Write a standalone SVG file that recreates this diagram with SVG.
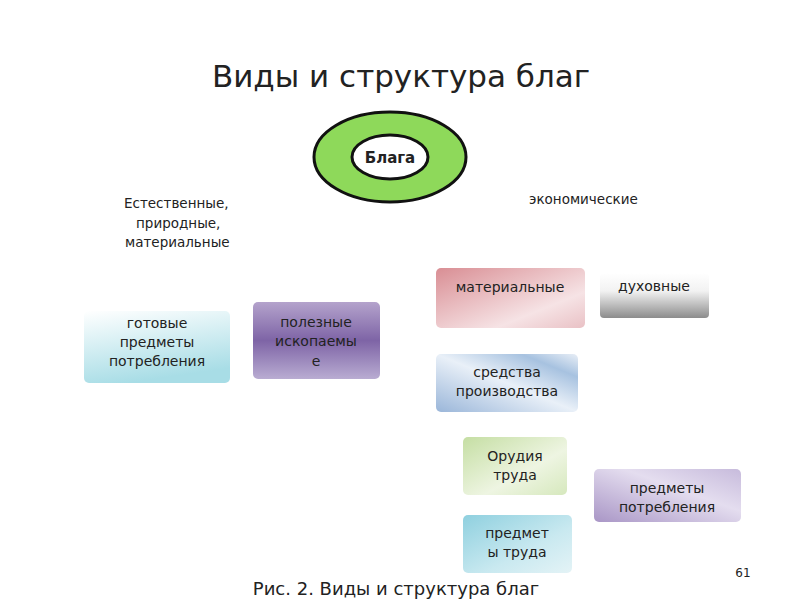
<svg xmlns="http://www.w3.org/2000/svg" width="800" height="600" viewBox="0 0 800 600">
<defs>
<linearGradient id="gCyan" x1="0" y1="0" x2="0.3" y2="1"><stop offset="0" stop-color="#ffffff"/><stop offset="1" stop-color="#a8dde6"/></linearGradient>
<linearGradient id="gPurple" x1="0" y1="0" x2="0" y2="1"><stop offset="0" stop-color="#b4a3cc"/><stop offset="0.5" stop-color="#7e64a6"/><stop offset="1" stop-color="#b9acd2"/></linearGradient>
<linearGradient id="gPink" x1="0" y1="0" x2="1" y2="1"><stop offset="0" stop-color="#d98e94"/><stop offset="0.7" stop-color="#f6e3e5"/><stop offset="1" stop-color="#e9c1c5"/></linearGradient>
<linearGradient id="gGray" x1="0" y1="0" x2="0" y2="1"><stop offset="0" stop-color="#ffffff"/><stop offset="0.4" stop-color="#f2f2f2"/><stop offset="1" stop-color="#8c8c8c"/></linearGradient>
<linearGradient id="gBlue" x1="0" y1="1" x2="1" y2="0"><stop offset="0" stop-color="#9ab6d9"/><stop offset="0.5" stop-color="#e9f0f8"/><stop offset="0.8" stop-color="#a7c2e0"/><stop offset="1" stop-color="#e8eef6"/></linearGradient>
<linearGradient id="gGreen" x1="0" y1="0" x2="1" y2="1"><stop offset="0" stop-color="#c5dea3"/><stop offset="0.6" stop-color="#eef5e2"/><stop offset="1" stop-color="#d6e8bd"/></linearGradient>
<linearGradient id="gLav" x1="0" y1="1" x2="1" y2="0"><stop offset="0" stop-color="#a996c6"/><stop offset="0.6" stop-color="#e4ddef"/><stop offset="1" stop-color="#c7bbdc"/></linearGradient>
<linearGradient id="gCyan2" x1="0" y1="0" x2="1" y2="1"><stop offset="0" stop-color="#8fd0df"/><stop offset="0.6" stop-color="#c9e9f0"/><stop offset="1" stop-color="#e4f3f6"/></linearGradient>
</defs>
<style>
text{font-family:"DejaVu Sans","Liberation Sans",sans-serif;fill:#222}
.t{font-size:14px;text-anchor:middle}
.s{font-size:13.5px}
</style>
<rect width="800" height="600" fill="#fff"/>
<text x="401" y="87" font-size="31" text-anchor="middle" fill="#111">Виды и структура благ</text>
<g id="blaga">
<ellipse cx="390" cy="157" rx="76" ry="45" fill="#8ed95a" stroke="#111" stroke-width="3"/>
<ellipse cx="390" cy="157" rx="38" ry="22" fill="#fff" stroke="#111" stroke-width="3"/>
<text x="390" y="163" font-size="15" font-weight="bold" text-anchor="middle" fill="#111">Блага</text>
</g>
<g id="natural"><text class="s" x="124" y="208">Естественные,</text><text class="s" x="136" y="228">природные,</text><text class="s" x="125" y="247">материальные</text></g>
<g id="econ"><text class="s" x="529" y="204">экономические</text></g>
<g id="gotovye"><rect x="84" y="311" width="146" height="72" rx="5" fill="url(#gCyan)"/><text class="t" x="157" y="328">готовые</text><text class="t" x="157" y="347">предметы</text><text class="t" x="157" y="366">потребления</text></g>
<g id="poleznye"><rect x="253" y="302" width="127" height="77" rx="5" fill="url(#gPurple)"/><text class="t" x="316" y="327">полезные</text><text class="t" x="316" y="346">ископаемы</text><text class="t" x="316" y="366">е</text></g>
<g id="materialnye"><rect x="436" y="268" width="149" height="60" rx="5" fill="url(#gPink)"/><text class="t" x="510" y="292">материальные</text></g>
<g id="duhovnye"><rect x="600" y="273" width="109" height="45" rx="4" fill="url(#gGray)"/><text class="t" x="654" y="291">духовные</text></g>
<g id="sredstva"><rect x="436" y="354" width="142" height="58" rx="5" fill="url(#gBlue)"/><text class="t" x="507" y="377">средства</text><text class="t" x="507" y="396">производства</text></g>
<g id="orudiya"><rect x="463" y="437" width="104" height="58" rx="5" fill="url(#gGreen)"/><text class="t" x="515" y="461">Орудия</text><text class="t" x="515" y="480">труда</text></g>
<g id="predmpotr"><rect x="594" y="469" width="147" height="53" rx="5" fill="url(#gLav)"/><text class="t" x="667" y="493">предметы</text><text class="t" x="667" y="512">потребления</text></g>
<g id="predmtruda"><rect x="463" y="515" width="109" height="58" rx="5" fill="url(#gCyan2)"/><text class="t" x="517" y="538">предмет</text><text class="t" x="517" y="557">ы труда</text></g>
<g id="connectors"/>
<text x="743" y="577" font-size="12" text-anchor="middle" fill="#999">61</text>
<text x="396" y="595" font-size="18" text-anchor="middle" fill="#111">Рис. 2. Виды и структура благ</text>
</svg>
